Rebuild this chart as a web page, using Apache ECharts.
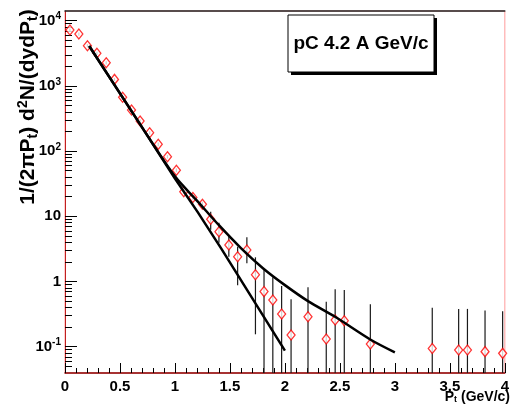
<!DOCTYPE html>
<html><head><meta charset="utf-8">
<script src="https://cdn.jsdelivr.net/npm/echarts@6/dist/echarts.min.js"></script>
<style>html,body{margin:0;padding:0;background:#fff}#c{width:512px;height:411px}</style>
</head><body><div id="c"></div>
<script>
// ---- data ----
const ptData   = [0.045,0.126,0.204,0.29,0.375,0.45,0.524,0.605,0.683,0.77,0.848,0.932,1.013,1.08,1.163,1.25,1.325,1.40,1.49,1.57,1.654,1.732,1.81,1.89,1.97,2.056,2.21,2.376,2.457,2.54,2.777,3.34,3.58,3.66,3.82,3.98];
const yieldData= [7200,6250,4140,3160,2270,1260,668,427,290,191,127,82,51,23.8,19.5,15.3,9.0,5.8,3.63,2.4,3.04,1.27,0.70,0.52,0.318,0.151,0.288,0.131,0.257,0.25,0.11,0.094,0.089,0.089,0.084,0.079];
const errLow   = [6800,5900,3900,2980,2140,1190,630,403,273,180,119,77,47.5,21.9,17.8,13.8,6.2,3.94,2.4,0.88,1.9,0.155,0.01,0.01,0.01,0.01,0.01,0.01,0.01,0.01,0.01,0.01,0.01,0.01,0.01,0.01];
const errHigh  = [7600,6600,4380,3340,2400,1330,706,451,307,202,135,87,54.5,25.7,21.2,16.8,11.8,7.98,4.99,3.42,4.76,2.35,1.5,1.16,0.853,0.533,0.815,0.49,0.76,0.74,0.447,0.396,0.38,0.38,0.36,0.35];
const fitExpPt  = [0.22,0.67,1.0,1.21,1.42,2.0];
const fitExpVal = [4090,279,38,11.4,3.23,0.087];
const fitTwoPt  = [0.22,0.67,1.0,1.21,1.40,1.60,1.80,2.0,2.21,2.46,2.78,3.0];
const fitTwoVal = [4090,279,41,16.7,7.3,3.25,1.6,0.88,0.50,0.285,0.128,0.082];
const yMajorTicks = [0.1,1,10,100,1000,10000];
const yMajorLabels = ['{b|10}{s|-1}','{b|1}','{b|10}','{b|10}{s|2}','{b|10}{s|3}','{b|10}{s|4}'];
const yMinorTicks = [0.05,0.06,0.07,0.08,0.09,0.2,0.3,0.4,0.5,0.6,0.7,0.8,0.9,2,3,4,5,6,7,8,9,20,30,40,50,60,70,80,90,200,300,400,500,600,700,800,900,2000,3000,4000,5000,6000,7000,8000,9000];
const titleText = 'pC 4.2 A GeV/c';

const FONT = 'Liberation Sans, Arial, sans-serif';
const chart = echarts.init(document.getElementById('c'), null, {renderer:'canvas'});
const yMin = 0.0395, yMax = 14100;
const rich = {
  b:{fontFamily:FONT,fontWeight:'bold',fontSize:15,color:'#000',lineHeight:16},
  s:{fontFamily:FONT,fontWeight:'bold',fontSize:10,color:'#000',verticalAlign:'top',padding:[0,0,8,0]}
};
function yLab(v){
  for(let i=0;i<yMajorTicks.length;i++){ if(Math.abs(Math.log10(v)-Math.log10(yMajorTicks[i]))<1e-6) return yMajorLabels[i]; }
  return '';
}
chart.setOption({
  animation:false,
  backgroundColor:'#fff',
  grid:{left:65,right:2,top:11,bottom:38,show:true,borderColor:'#ff9c9c',borderWidth:1,backgroundColor:'transparent'},
  xAxis:[{
    type:'value',min:0,max:4,interval:0.5,
    axisLine:{show:true,onZero:false,lineStyle:{color:'#8b0000',width:1.5}},
    axisTick:{show:true,inside:true,length:10,lineStyle:{color:'#000',width:1}},
    minorTick:{show:true,splitNumber:5,length:5,lineStyle:{color:'#000',width:1}},
    splitLine:{show:false},
    axisLabel:{show:true,margin:6,fontFamily:FONT,fontWeight:'bold',fontSize:15,color:'#000',
      formatter:v=>String(v),showMinLabel:true,showMaxLabel:true}
  },{
    type:'value',min:0,max:4,position:'top',
    axisLine:{show:true,lineStyle:{color:'#222',width:1.5}},
    axisTick:{show:false},axisLabel:{show:false},splitLine:{show:false}
  }],
  yAxis:[{
    type:'log',logBase:10,min:yMin,max:yMax,
    axisLine:{show:true,lineStyle:{color:'#c02020',width:1}},
    axisTick:{show:true,inside:true,length:12,customValues:yMajorTicks,lineStyle:{color:'#000',width:1}},
    axisLabel:{show:true,margin:4,customValues:yMajorTicks,formatter:yLab,rich:rich},
    splitLine:{show:false},minorTick:{show:false}
  },{
    type:'log',logBase:10,min:yMin,max:yMax,position:'left',
    axisLine:{show:false},
    axisTick:{show:true,inside:true,length:7,customValues:yMinorTicks,lineStyle:{color:'#000',width:1}},
    axisLabel:{show:false},splitLine:{show:false}
  }],
  series:[
    {type:'custom',xAxisIndex:0,yAxisIndex:0,clip:true,z:2,
     encode:{x:0,y:[1,2]},
     data:ptData.map((p,i)=>[p,errLow[i],errHigh[i]]),
     renderItem:(params,api)=>{
       const x=api.value(0);
       const lo=api.coord([x,api.value(1)]);
       const hi=api.coord([x,api.value(2)]);
       return {type:'line',shape:{x1:lo[0],y1:lo[1],x2:hi[0],y2:hi[1]},style:{stroke:'#1a1a1a',lineWidth:1.2}};
     }},
    {type:'scatter',xAxisIndex:0,yAxisIndex:0,z:3,symbol:'diamond',symbolSize:[8,10],
     data:ptData.map((p,i)=>[p,yieldData[i]]),
     itemStyle:{color:'#fff',borderColor:'#ff0000',borderWidth:1.3}},
    {type:'line',xAxisIndex:0,yAxisIndex:0,z:4,showSymbol:false,smooth:false,
     data:fitExpPt.map((p,i)=>[p,fitExpVal[i]]),lineStyle:{color:'#000',width:2.5}},
    {type:'line',xAxisIndex:0,yAxisIndex:0,z:4,showSymbol:false,smooth:0.3,
     data:fitTwoPt.map((p,i)=>[p,fitTwoVal[i]]),lineStyle:{color:'#000',width:2.5}}
  ],
  graphic:[
    {type:'rect',shape:{x:291,y:18,width:146,height:57},style:{fill:'#000'},z:10},
    {type:'rect',shape:{x:288,y:15,width:146,height:57},style:{fill:'#fff',stroke:'#000',lineWidth:1},z:11},
    {type:'text',x:361,y:44,z:12,style:{text:titleText,font:'bold 19px '+FONT,fill:'#000',textAlign:'center',textVerticalAlign:'middle'}},
    {type:'text',x:28,y:107,rotation:Math.PI/2,z:12,style:{
      text:'{b|1/(2πP}{sub|t}{b|) d}{sup|2}{b|N/(dydP}{sub|t}{b|)}',
      textAlign:'center',textVerticalAlign:'middle',
      rich:{b:{font:'bold 21px '+FONT,fill:'#000'},
            sub:{font:'bold 14px '+FONT,fill:'#000',verticalAlign:'bottom',padding:[8,0,0,0]},
            sup:{font:'bold 14px '+FONT,fill:'#000',verticalAlign:'top',padding:[0,0,10,0]}}}},
    {type:'text',x:510,y:397,z:12,style:{
      text:'{b|P}{sub|t}{b| (GeV/c)}',textAlign:'right',textVerticalAlign:'middle',
      rich:{b:{font:'bold 14px '+FONT,fill:'#000'},
            sub:{font:'bold 9px '+FONT,fill:'#000',verticalAlign:'bottom',padding:[6,0,0,0]}}}}
  ]
});
</script></body></html>
